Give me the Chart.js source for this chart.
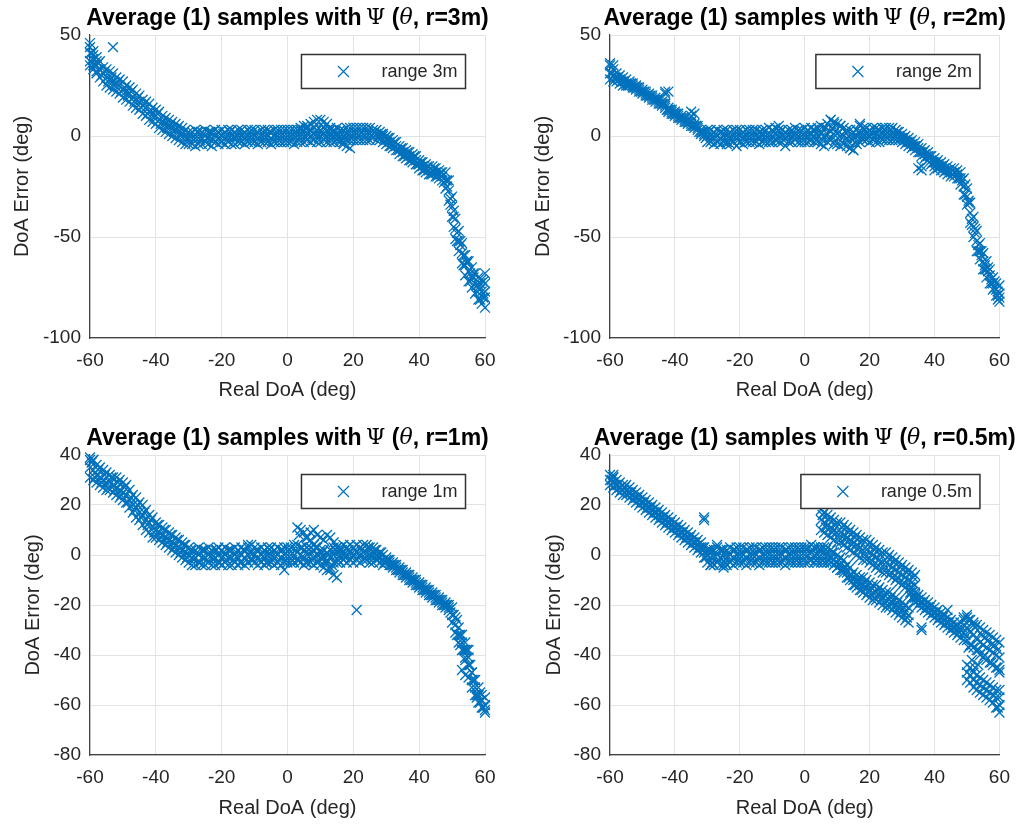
<!DOCTYPE html>
<html>
<head>
<meta charset="utf-8">
<script src="https://cdn.jsdelivr.net/npm/chart.js@4.4.1/dist/chart.umd.min.js"></script>
<style>
  body { margin: 0; background: #fff; }
  canvas { position: absolute; }
</style>
</head>
<body>
<canvas id="chart3m" width="510" height="412" style="left:0;top:0"></canvas>
<canvas id="chart2m" width="511" height="412" style="left:510px;top:0"></canvas>
<canvas id="chart1m" width="510" height="412" style="left:0;top:413px"></canvas>
<canvas id="chart05m" width="511" height="412" style="left:510px;top:413px"></canvas>
<script>
// Real DoA (deg), shared by the sample rows of every plot
const realDoA = [
  -60, -59, -58, -57, -56, -55, -54, -53, -52, -51,
  -50, -49, -48, -47, -46, -45, -44, -43, -42, -41,
  -40, -39, -38, -37, -36, -35, -34, -33, -32, -31,
  -30, -29, -28, -27, -26, -25, -24, -23, -22, -21,
  -20, -19, -18, -17, -16, -15, -14, -13, -12, -11,
  -10, -9, -8, -7, -6, -5, -4, -3, -2, -1,
  0, 1, 2, 3, 4, 5, 6, 7, 8, 9,
  10, 11, 12, 13, 14, 15, 16, 17, 18, 19,
  20, 21, 22, 23, 24, 25, 26, 27, 28, 29,
  30, 31, 32, 33, 34, 35, 36, 37, 38, 39,
  40, 41, 42, 43, 44, 45, 46, 47, 48, 49,
  50, 51, 52, 53, 54, 55, 56, 57, 58, 59, 60,
];
// the samples taken half way between those angles
const realDoAHalf = [
  -59.5, -58.5, -57.5, -56.5, -55.5, -54.5, -53.5, -52.5, -51.5, -50.5,
  -49.5, -48.5, -47.5, -46.5, -45.5, -44.5, -43.5, -42.5, -41.5, -40.5,
  -39.5, -38.5, -37.5, -36.5, -35.5, -34.5, -33.5, -32.5, -31.5, -30.5,
  -29.5, -28.5, -27.5, -26.5, -25.5, -24.5, -23.5, -22.5, -21.5, -20.5,
  -19.5, -18.5, -17.5, -16.5, -15.5, -14.5, -13.5, -12.5, -11.5, -10.5,
  -9.5, -8.5, -7.5, -6.5, -5.5, -4.5, -3.5, -2.5, -1.5, -0.5,
  0.5, 1.5, 2.5, 3.5, 4.5, 5.5, 6.5, 7.5, 8.5, 9.5,
  10.5, 11.5, 12.5, 13.5, 14.5, 15.5, 16.5, 17.5, 18.5, 19.5,
  20.5, 21.5, 22.5, 23.5, 24.5, 25.5, 26.5, 27.5, 28.5, 29.5,
  30.5, 31.5, 32.5, 33.5, 34.5, 35.5, 36.5, 37.5, 38.5, 39.5,
  40.5, 41.5, 42.5, 43.5, 44.5, 45.5, 46.5, 47.5, 48.5, 49.5,
  50.5, 51.5, 52.5, 53.5, 54.5, 55.5, 56.5, 57.5, 58.5, 59.5,
];

// ---- range 3m ----
const err3mHigh = [
  46, 42, 39, 37, 34, 33, 32, 31, 29, 28,
  27, 25, 24, 23, 21, 20, 18, 17, 16, 14,
  13, 12, 10, 9, 8, 7, 6, 5, 4, 3,
  2, 2, 3, 2, 2, 3, 2, 2, 3, 2,
  3, 2, 3, 3, 2, 3, 3, 2, 3, 3,
  3, 2, 3, 3, 3, 2, 3, 3, 3, 3,
  3, 3, 3, 3, 3, 3, 4, 3, 4, 3,
  3, 4, 3, 3, 3, 4, 3, 3, 4, 4,
  4, 4, 4, 4, 4, 4, 3, 3, 2, 1,
  0, -1, -2, -3, -5, -6, -7, -8, -9, -10,
  -12, -13, -14, -15, -15, -16, -17, -18, -18, -22,
  -30, -41, -47, -53, -59, -62, -65, -68, -70, -71, -68,
];
const err3mMid = [
  41, 38, 35, 33, 31, 29, 28, 27, 26, 25,
  23, 22, 21, 19, 18, 17, 15, 14, 12, 11,
  10, 8, 7, 6, 5, 4, 3, 2, 1, 0,
  -1, -1, -1, -1, -1, 0, -1, -1, 0, -1,
  0, -1, 0, 0, -1, 0, 0, -1, 0, 0,
  0, -1, 0, 0, 0, -1, 0, 0, 0, 0,
  0, 0, 0, 0, 0, 0, 1, 0, 1, 0,
  0, 1, 0, 0, 0, 1, 0, 0, 1, 1,
  1, 1, 1, 1, 1, 1, 1, 1, 0, 0,
  -2, -3, -4, -5, -7, -8, -9, -10, -11, -12,
  -14, -15, -16, -17, -17, -18, -19, -20, -22, -27,
  -35, -46, -52, -58, -64, -67, -70, -73, -75, -77, -77,
];
const err3mLow = [
  35, 33, 31, 29, 27, 25, 24, 23, 22, 21,
  19, 18, 17, 15, 14, 13, 11, 10, 8, 7,
  6, 4, 3, 2, 1, 0, -1, -2, -3, -4,
  -4, -4, -5, -4, -4, -3, -4, -5, -3, -4,
  -3, -4, -3, -4, -4, -3, -3, -4, -3, -3,
  -3, -4, -3, -3, -3, -4, -3, -3, -3, -3,
  -3, -3, -4, -3, -3, -3, -2, -3, -2, -3,
  -3, -2, -3, -3, -3, -2, -3, -3, -2, -2,
  -2, -2, -2, -2, -2, -2, -1, -2, -2, -3,
  -4, -5, -6, -7, -9, -10, -11, -12, -13, -14,
  -16, -17, -18, -19, -19, -20, -21, -22, -26, -32,
  -40, -51, -57, -63, -69, -72, -75, -78, -81, -83, -85,
];
const err3mHalf = [
  41, 35, 36, 30, 32, 27, 29, 25, 27, 22,
  24, 20, 22, 17, 19, 14, 16, 11, 13, 9,
  11, 6, 8, 4, 6, 2, 4, 0, 2, -2,
  1, -2, 2, -2, 1, -1, 2, -2, 1, -2,
  1, -2, 2, -1, 1, -2, 1, -2, 2, -2,
  1, -2, 1, -1, 2, -2, 1, -2, 1, -2,
  1, -2, 2, -1, 2, -1, 2, -1, 2, -1,
  2, -1, 2, -1, 2, -1, 2, -1, 2, -1,
  2, 0, 2, 0, 2, 0, 2, 0, 1, -1,
  -1, -5, -3, -7, -6, -10, -8, -12, -10, -14,
  -13, -17, -15, -19, -16, -20, -18, -23, -22, -34,
  -37, -52, -52, -64, -62, -72, -68, -77, -73, -80,
];
// second track around 10 deg, the steep end and the stray samples
const extra3mDoA = [
  3, 4, 5, 6, 7, 8, 9, 10, 11, 12, 13, 14, 15, 16, 17, 18, 19,
  48.5, 49.5, 50.5, 50.5, 51.5, 52.5, 53.5, 54.5, 55.5, 56.5, 57.5, 58.5, 59.5, 59.5, 58.5, 60, 60,
  -60, -59, -60, -59, -58, -58, -53,
];
const extra3mErr = [
  3, 4, 5, 5, 6, 7, 8, 8, 7, 6, 4, 2, 0, -2, -4, -5, -6,
  -25, -31, -40, -45, -48, -54, -59, -63, -68, -70, -74, -76, -78, -72, -81, -80, -73,
  44, 40, 37, 35, 37, 32, 44,
];

// ---- range 2m ----
const err2mHigh = [
  35, 33, 31, 30, 29, 28, 27, 26, 25, 24,
  23, 22, 21, 20, 19, 18, 17, 16, 14, 13,
  12, 11, 10, 9, 8, 7, 6, 5, 3, 2,
  3, 3, 2, 3, 2, 3, 3, 2, 3, 3,
  3, 2, 3, 3, 3, 3, 2, 3, 3, 4,
  3, 4, 3, 3, 2, 3, 3, 4, 3, 3,
  4, 3, 4, 3, 4, 5, 4, 6, 8, 6,
  6, 5, 4, 3, 3, 2, 3, 5, 4, 4,
  3, 4, 4, 3, 4, 4, 4, 4, 3, 2,
  1, 0, -1, -2, -3, -4, -6, -7, -8, -10,
  -11, -12, -13, -14, -15, -16, -16, -17, -18, -21,
  -26, -33, -40, -47, -53, -58, -62, -66, -70, -73, -74,
];
const err2mMid = [
  31, 30, 29, 28, 27, 26, 26, 25, 24, 23,
  22, 21, 20, 19, 18, 17, 16, 15, 13, 12,
  11, 10, 9, 8, 7, 6, 5, 4, 2, 1,
  0, 0, -1, 0, -1, 0, 0, -1, 0, 0,
  0, -1, 0, 0, 0, 0, -1, 0, 0, 0,
  0, 1, 0, 0, -1, 0, 0, 1, 0, 0,
  0, 0, 1, 0, 0, 1, 0, 1, 2, 1,
  1, 0, 0, -1, -1, -1, 0, 1, 1, 1,
  0, 1, 1, 0, 1, 1, 1, 1, 0, 0,
  -1, -2, -3, -4, -5, -6, -8, -9, -10, -12,
  -13, -14, -15, -16, -17, -18, -18, -19, -21, -25,
  -30, -38, -45, -52, -57, -62, -66, -69, -73, -76, -78,
];
const err2mLow = [
  28, 27, 27, 26, 25, 25, 25, 24, 23, 22,
  21, 20, 19, 18, 17, 16, 15, 14, 12, 11,
  10, 9, 8, 7, 6, 5, 4, 3, 1, 0,
  -3, -3, -4, -3, -4, -3, -3, -4, -3, -5,
  -3, -4, -3, -3, -3, -3, -4, -3, -3, -3,
  -3, -2, -3, -3, -5, -3, -3, -2, -3, -3,
  -3, -3, -2, -3, -3, -4, -5, -3, -2, -4,
  -4, -5, -4, -5, -6, -7, -4, -3, -2, -2,
  -3, -2, -3, -3, -2, -2, -2, -2, -2, -2,
  -3, -4, -5, -6, -7, -8, -10, -11, -12, -14,
  -15, -16, -17, -18, -19, -20, -20, -21, -24, -29,
  -34, -43, -50, -57, -61, -66, -70, -73, -76, -79, -82,
];
const err2mHalf = [
  31, 29, 29, 27, 27, 25, 26, 24, 24, 22,
  22, 20, 20, 18, 18, 16, 16, 13, 13, 11,
  11, 9, 9, 7, 7, 5, 5, 2, 2, -1,
  2, -2, 1, -2, 2, -2, 1, -2, 2, -2,
  1, -2, 2, -2, 2, -1, 2, -2, 1, -2,
  2, -2, 2, -2, 1, -2, 2, -1, 2, -2,
  2, -2, 3, -2, 3, -2, 4, -1, 4, -2,
  2, -3, 2, -3, 1, -3, 2, -1, 3, -1,
  2, -1, 3, -1, 3, -1, 3, -1, 2, -1,
  -1, -3, -3, -5, -5, -8, -8, -10, -10, -13,
  -13, -15, -15, -17, -17, -19, -18, -21, -22, -29,
  -32, -44, -46, -57, -57, -66, -65, -73, -72, -79,
];
const extra2mDoA = [
  -43, -43, -42, -35, -35, -34, 36, 36, 35, 40, -60, -59,
  -8, -24, 8, 9, 15, 14, 17, 11,
  49.5, 50.5, 51.5, 52.5, 53.5, 54.5, 55.5, 56.5, 57.5, 58.5, 59.5, 60, 59.5,
];
const extra2mErr = [
  22, 21, 22, 12, 10, 11, -15, -17, -16, -17, 36, 35,
  5, -4, 8, 7, -7, -6, 6, 5,
  -24, -33, -41, -48, -54, -59, -64, -67, -71, -75, -77, -80, -81,
];

// ---- range 1m ----
const err1mHigh = [
  39, 38, 36, 35, 34, 33, 32, 31, 31, 30,
  29, 28, 26, 24, 23, 21, 20, 18, 16, 15,
  13, 12, 11, 10, 9, 8, 7, 6, 5, 4,
  3, 2, 2, 3, 2, 2, 3, 2, 2, 3,
  2, 3, 2, 2, 3, 2, 3, 2, 3, 4,
  3, 2, 3, 2, 3, 3, 2, 3, 2, 3,
  3, 3, 4, 4, 3, 2, 3, 3, 2, 3,
  2, 2, 1, 2, 3, 3, 3, 4, 3, 4,
  3, 4, 3, 4, 4, 3, 3, 2, 1, 0,
  -1, -2, -3, -4, -5, -6, -7, -8, -9, -10,
  -11, -12, -13, -14, -15, -16, -17, -18, -19, -20,
  -21, -25, -29, -32, -35, -38, -47, -50, -53, -56, -57,
];
const err1mMid = [
  35, 34, 32, 31, 30, 29, 29, 28, 27, 26,
  25, 24, 22, 20, 19, 17, 16, 14, 13, 11,
  10, 9, 8, 7, 6, 5, 4, 3, 2, 1,
  0, -1, -1, 0, -1, -1, 0, -1, -1, 0,
  -1, 0, -1, -1, 0, -1, 0, -1, 0, 1,
  0, -1, 0, -1, 0, 0, -1, 0, -1, 0,
  0, 0, 0, 1, 0, -1, 0, 0, -1, 0,
  -1, -1, -2, -1, 0, 0, 0, 1, 0, 1,
  0, 1, 0, 1, 1, 0, 0, 0, -1, -2,
  -2, -3, -4, -5, -6, -7, -8, -9, -10, -11,
  -12, -13, -14, -15, -16, -17, -18, -19, -20, -21,
  -24, -28, -32, -35, -38, -41, -50, -53, -56, -58, -60,
];
const err1mLow = [
  31, 30, 29, 28, 27, 26, 26, 25, 24, 23,
  22, 21, 19, 17, 15, 14, 12, 10, 9, 7,
  7, 6, 5, 4, 3, 2, 1, 0, -1, -2,
  -3, -4, -4, -3, -4, -4, -3, -4, -4, -3,
  -4, -3, -4, -4, -3, -4, -3, -4, -3, -2,
  -3, -4, -3, -4, -3, -3, -4, -3, -4, -3,
  -3, -3, -3, -2, -3, -4, -3, -3, -4, -3,
  -4, -5, -6, -5, -3, -3, -3, -2, -3, -2,
  -3, -2, -3, -2, -2, -3, -3, -2, -3, -4,
  -3, -4, -5, -6, -7, -8, -9, -10, -11, -12,
  -13, -14, -15, -16, -17, -18, -19, -20, -21, -22,
  -27, -31, -35, -38, -41, -44, -53, -56, -59, -61, -62,
];
const err1mHalf = [
  37, 31, 34, 29, 32, 27, 31, 26, 29, 24,
  27, 21, 23, 18, 20, 15, 17, 12, 14, 9,
  12, 7, 10, 5, 8, 3, 6, 1, 4, -1,
  2, -2, 1, -3, 2, -2, 1, -2, 2, -3,
  1, -2, 2, -2, 1, -3, 2, -2, 1, -2,
  2, -2, 1, -3, 2, -2, 1, -2, 2, -2,
  2, -2, 2, -2, 3, -3, 2, -2, 3, -2,
  1, -3, 0, -4, 2, -2, 2, -1, 2, -1,
  2, -1, 2, -1, 3, -1, 2, -1, 1, -3,
  -2, -4, -4, -6, -6, -8, -8, -10, -10, -12,
  -12, -14, -14, -16, -16, -18, -18, -20, -20, -23,
  -24, -32, -32, -38, -38, -44, -50, -56, -55, -61,
];
const extra1mDoA = [
  3, 4, 5, 6, 7, 8, 9, 10, 11, 12, 13, 14, 15,
  7, 8, 9, 10, 11, 12, 13, 14, 15, 16, 17, 3.5, 5.5,
  21, -1, -12,
  53, 54, 55, 54, 55, 56, 51.5, 52.5, 57.5, 58.5, 59.5, 60, -59, -60,
];
const extra1mErr = [
  11, 10, 9, 7, 6, 4, 3, 1, -1, -3, -6, -8, -9,
  9, 10, 8, 7, 6, 8, 7, 5, 3, 2, 0, 8, 7,
  -22, -6, 4,
  -46, -48, -49, -42, -44, -47, -26, -36, -57, -59, -61, -63, 38, 38,
];

// ---- range 0.5m ----
const err05mHigh = [
  32, 31, 30, 29, 28, 28, 27, 26, 25, 24,
  23, 22, 21, 20, 19, 18, 17, 16, 15, 14,
  13, 12, 11, 10, 9, 8, 7, 6, 5, 3,
  2, 2, 2, 3, 2, 2, 2, 3, 2, 3,
  3, 3, 2, 3, 3, 3, 2, 3, 3, 3,
  3, 3, 3, 3, 2, 3, 3, 3, 3, 3,
  3, 3, 4, 3, 3, 3, 3, 3, 2, 1,
  0, -1, -2, -4, -5, -7, -8, -9, -9, -10,
  -11, -12, -12, -13, -14, -15, -15, -16, -17, -18,
  -19, -20, -21, -13, -15, -16, -17, -18, -19, -20,
  -21, -22, -23, -24, -25, -26, -27, -28, -27, -25,
  -24, -26, -27, -28, -29, -30, -31, -32, -33, -34, -35,
];
const err05mMid = [
  30, 29, 28, 27, 26, 26, 25, 24, 23, 22,
  21, 20, 19, 18, 17, 16, 15, 14, 13, 12,
  11, 10, 9, 8, 7, 6, 5, 4, 3, 1,
  0, -1, -1, 0, -1, -1, -1, 0, -1, 0,
  0, 0, -1, 0, 0, 0, -1, 0, 0, 0,
  0, 0, 0, 0, -1, 0, 0, 0, 0, 0,
  0, 0, 1, 0, 0, 0, 0, 0, -1, -2,
  -3, -4, -5, -7, -8, -10, -11, -12, -12, -13,
  -14, -15, -15, -16, -17, -18, -18, -19, -20, -21,
  -22, -23, -24, -15, -17, -18, -19, -20, -21, -22,
  -23, -24, -25, -26, -27, -28, -29, -30, -30, -31,
  -29, -31, -32, -33, -35, -36, -37, -38, -39, -40, -41,
];
const err05mLow = [
  28, 27, 26, 25, 24, 24, 23, 22, 21, 20,
  19, 18, 17, 16, 15, 14, 13, 12, 11, 10,
  9, 8, 7, 6, 5, 4, 3, 2, 1, -1,
  -3, -4, -4, -3, -4, -4, -4, -3, -4, -3,
  -3, -3, -4, -3, -3, -3, -4, -3, -3, -3,
  -3, -3, -3, -3, -4, -3, -3, -3, -3, -3,
  -3, -3, -2, -3, -3, -3, -3, -3, -3, -4,
  -5, -6, -7, -9, -10, -12, -13, -14, -15, -16,
  -17, -18, -18, -19, -20, -21, -21, -22, -23, -24,
  -25, -26, -27, -17, -19, -20, -21, -22, -23, -24,
  -25, -26, -27, -28, -29, -30, -31, -32, -33, -34,
  -34, -36, -37, -38, -40, -41, -42, -43, -44, -45, -46,
];
const err05mHalf = [
  30, 28, 28, 26, 27, 25, 25, 23, 23, 21,
  21, 19, 19, 17, 17, 15, 15, 13, 13, 11,
  11, 9, 9, 7, 7, 5, 5, 3, 3, -1,
  2, -3, 1, -2, 2, -3, 1, -2, 2, -2,
  1, -2, 2, -2, 1, -2, 2, -2, 1, -2,
  2, -2, 1, -2, 2, -2, 1, -2, 2, -2,
  2, -2, 2, -2, 2, -2, 2, -2, 1, -3,
  -2, -6, -5, -9, -8, -12, -10, -14, -11, -15,
  -13, -17, -14, -18, -16, -20, -17, -21, -19, -23,
  -21, -25, -15, -17, -17, -19, -19, -21, -21, -23,
  -23, -25, -25, -27, -27, -29, -29, -31, -29, -32,
  -26, -36, -29, -38, -32, -40, -34, -43, -36, -45,
];
// upper branch that splits off near 5 deg
const branch05mDoA = [
  5, 6, 7, 8, 9, 10, 11, 12, 13, 14, 15, 16, 17, 18, 19,
  20, 21, 22, 23, 24, 25, 26, 27, 28, 29, 30, 31, 32, 33, 34,
];
const branch05mHigh = [
  18, 17, 16, 15, 14, 13, 13, 12, 11, 10, 9, 8, 7, 6, 6,
  5, 4, 3, 2, 1, 1, 0, -1, -2, -3, -4, -5, -6, -7, -8,
];
const branch05mMid = [
  14, 13, 12, 11, 10, 9, 9, 8, 7, 6, 5, 4, 3, 2, 2,
  1, 0, -1, -2, -3, -3, -4, -5, -6, -7, -8, -9, -10, -11, -12,
];
const branch05mLow = [
  10, 9, 8, 7, 6, 5, 5, 4, 3, 2, 1, 0, -1, -2, -2,
  -3, -4, -5, -6, -7, -7, -8, -9, -10, -11, -12, -13, -14, -15, -16,
];
const branch05mHalfDoA = [
  5.5, 6.5, 7.5, 8.5, 9.5, 10.5, 11.5, 12.5, 13.5, 14.5,
  15.5, 16.5, 17.5, 18.5, 19.5, 20.5, 21.5, 22.5, 23.5, 24.5,
  25.5, 26.5, 27.5, 28.5, 29.5, 30.5, 31.5, 32.5, 33.5,
];
const branch05mHalf = [
  16, 11, 14, 9, 12, 7, 11, 6, 9, 4,
  7, 2, 5, 0, 4, -2, 2, -4, 0, -5,
  -1, -7, -3, -9, -5, -11, -7, -13, -9,
];
// lower cluster at the right edge
const tail05mDoA = [50, 51, 52, 53, 54, 55, 56, 57, 58, 59, 60];
const tail05mHigh = [-44, -45, -47, -48, -49, -50, -51, -52, -53, -54, -54];
const tail05mMid = [-47, -48, -50, -51, -52, -53, -54, -55, -56, -57, -57];
const tail05mLow = [-50, -51, -53, -54, -55, -56, -57, -58, -59, -61, -63];
const extra05mDoA = [
  -31, -31, -59, -59, 44, 36, 36, 16, 17, 50, 49, 52,
  -29, -25, -27, 3, 5, 8, 10, 12,
  50.5, 51.5, 52.5, 53.5, 55.5, 57.5, 59.5, 60, 59.5, 60,
];
const extra05mErr = [
  15, 14, 32, 31, -22, -30, -29, -10, -11, -25, -26, -28,
  -4, -5, 4, 3, 2, -3, -5, -6,
  -37, -42, -45, -44, -33, -36, -38, -47, -61, -60,
];

const xTicks = [-60, -40, -20, 0, 20, 40, 60];
const SANS = '"Liberation Sans", Arial, Helvetica, sans-serif';
const BLUE = "#0072BD";

// pair every error list with its DoA list
const toPoints = (xs, ...rows) => {
  const pts = [];
  rows.forEach((ys) => ys.forEach((y, i) => pts.push({ x: xs[i], y: y })));
  return pts;
};

// title (with Greek letters) and boxed legend, drawn like the MATLAB figure
const decorPlugin = (range) => ({
  id: "matlabDecor",
  afterDraw(chart) {
    const { ctx, chartArea } = chart;
    ctx.save();
    const segs = [
      { text: "Average (1) samples with\u2009", font: "bold 23px " + SANS },
      { text: "\u03A8", font: '22px "DejaVu Serif", serif' },
      { text: " (", font: "bold 23px " + SANS },
      { text: "\u03B8", font: 'italic 22px "DejaVu Serif", serif' },
      { text: ", r=" + range + ")", font: "bold 23px " + SANS },
    ];
    let total = 0;
    segs.forEach((s) => {
      ctx.font = s.font;
      s.w = ctx.measureText(s.text).width;
      total += s.w;
    });
    let x = (chartArea.left + chartArea.right) / 2 - total / 2;
    const ty = chartArea.top - 16.5;
    ctx.textBaseline = "middle";
    ctx.fillStyle = "#000";
    segs.forEach((s) => {
      ctx.font = s.font;
      ctx.fillText(s.text, x, ty);
      x += s.w;
    });

    // legend box
    const label = "range " + range;
    ctx.font = "18px " + SANS;
    const tw = ctx.measureText(label).width;
    const bw = 80 + tw + 8;
    const bx = chartArea.right - 19.5 - bw;
    const by = chartArea.top + 19.5;
    const bh = 34;
    ctx.fillStyle = "#fff";
    ctx.fillRect(bx, by, bw, bh);
    ctx.strokeStyle = "#333";
    ctx.lineWidth = 1.5;
    ctx.strokeRect(bx, by, bw, bh);
    const mx = bx + 42;
    const my = by + bh / 2;
    ctx.strokeStyle = BLUE;
    ctx.lineWidth = 1.2;
    ctx.beginPath();
    ctx.moveTo(mx - 5.5, my - 5.5);
    ctx.lineTo(mx + 5.5, my + 5.5);
    ctx.moveTo(mx - 5.5, my + 5.5);
    ctx.lineTo(mx + 5.5, my - 5.5);
    ctx.stroke();
    ctx.fillStyle = "#262626";
    ctx.textAlign = "left";
    ctx.fillText(label, bx + 80, my + 1);
    ctx.restore();
  },
});

const makeChart = (id, points, cfg) => {
  const ctx = document.getElementById(id).getContext("2d");
  return new Chart(ctx, {
    type: "scatter",
    data: {
      datasets: [
        {
          label: "range " + cfg.range,
          data: points,
          pointStyle: "crossRot",
          pointRadius: 7,
          pointHoverRadius: 7,
          pointBorderWidth: 1.3,
          borderColor: BLUE,
          backgroundColor: BLUE,
          clip: false,
        },
      ],
    },
    options: {
      responsive: false,
      animation: false,
      devicePixelRatio: 1,
      layout: {
        padding: { left: cfg.padLeft, right: cfg.padRight, top: cfg.padTop, bottom: 0 },
      },
      plugins: {
        legend: { display: false },
        title: { display: false },
        tooltip: { enabled: false },
      },
      scales: {
        x: {
          type: "linear",
          min: -60,
          max: 60,
          afterBuildTicks: (scale) => {
            scale.ticks = xTicks.map((v) => ({ value: v }));
          },
          afterFit: (scale) => {
            scale.height = cfg.xAxisH;
          },
          grid: { color: "#e3e3e3", lineWidth: 1, drawTicks: false },
          border: { display: true, color: "#404040", width: 1.2 },
          ticks: {
            padding: 11,
            autoSkip: false,
            maxRotation: 0,
            color: "#262626",
            font: { family: SANS, size: 19 },
          },
          title: {
            display: true,
            text: "Real DoA (deg)",
            color: "#262626",
            font: { family: SANS, size: 20 },
            padding: { top: 0, bottom: cfg.xTitlePad },
          },
        },
        y: {
          type: "linear",
          min: cfg.yMin,
          max: cfg.yMax,
          afterBuildTicks: (scale) => {
            scale.ticks = cfg.yTicks.map((v) => ({ value: v }));
          },
          afterFit: (scale) => {
            scale.width = 90;
          },
          grid: { color: "#e3e3e3", lineWidth: 1, drawTicks: false },
          border: { display: true, color: "#404040", width: 1.2 },
          ticks: {
            padding: 9,
            autoSkip: false,
            color: "#262626",
            font: { family: SANS, size: 19 },
          },
          title: {
            display: true,
            text: "DoA Error (deg)",
            color: "#262626",
            font: { family: SANS, size: 20 },
            padding: { top: cfg.yTitlePad, bottom: 0 },
          },
        },
      },
    },
    plugins: [decorPlugin(cfg.range)],
  });
};

makeChart(
  "chart3m",
  [
    ...toPoints(realDoA, err3mHigh, err3mMid, err3mLow),
    ...toPoints(realDoAHalf, err3mHalf),
    ...toPoints(extra3mDoA, extra3mErr),
  ],
  {
    range: "3m", yMin: -100, yMax: 50, yTicks: [-100, -50, 0, 50],
    padLeft: 0, padRight: 25, padTop: 35, xAxisH: 74, xTitlePad: 10, yTitlePad: 10,
  }
);

makeChart(
  "chart2m",
  [
    ...toPoints(realDoA, err2mHigh, err2mMid, err2mLow),
    ...toPoints(realDoAHalf, err2mHalf),
    ...toPoints(extra2mDoA, extra2mErr),
  ],
  {
    range: "2m", yMin: -100, yMax: 50, yTicks: [-100, -50, 0, 50],
    padLeft: 10, padRight: 14, padTop: 35, xAxisH: 74, xTitlePad: 10, yTitlePad: 11,
  }
);

makeChart(
  "chart1m",
  [
    ...toPoints(realDoA, err1mHigh, err1mMid, err1mLow),
    ...toPoints(realDoAHalf, err1mHalf),
    ...toPoints(extra1mDoA, extra1mErr),
  ],
  {
    range: "1m", yMin: -80, yMax: 40, yTicks: [-80, -60, -40, -20, 0, 20, 40],
    padLeft: 0, padRight: 25, padTop: 42, xAxisH: 70, xTitlePad: 5, yTitlePad: 21,
  }
);

makeChart(
  "chart05m",
  [
    ...toPoints(realDoA, err05mHigh, err05mMid, err05mLow),
    ...toPoints(realDoAHalf, err05mHalf),
    ...toPoints(branch05mDoA, branch05mHigh, branch05mMid, branch05mLow),
    ...toPoints(branch05mHalfDoA, branch05mHalf),
    ...toPoints(tail05mDoA, tail05mHigh, tail05mMid, tail05mLow),
    ...toPoints(extra05mDoA, extra05mErr),
  ],
  {
    range: "0.5m", yMin: -80, yMax: 40, yTicks: [-80, -60, -40, -20, 0, 20, 40],
    padLeft: 10, padRight: 14, padTop: 42, xAxisH: 70, xTitlePad: 5, yTitlePad: 22,
  }
);
</script>
</body>
</html>
